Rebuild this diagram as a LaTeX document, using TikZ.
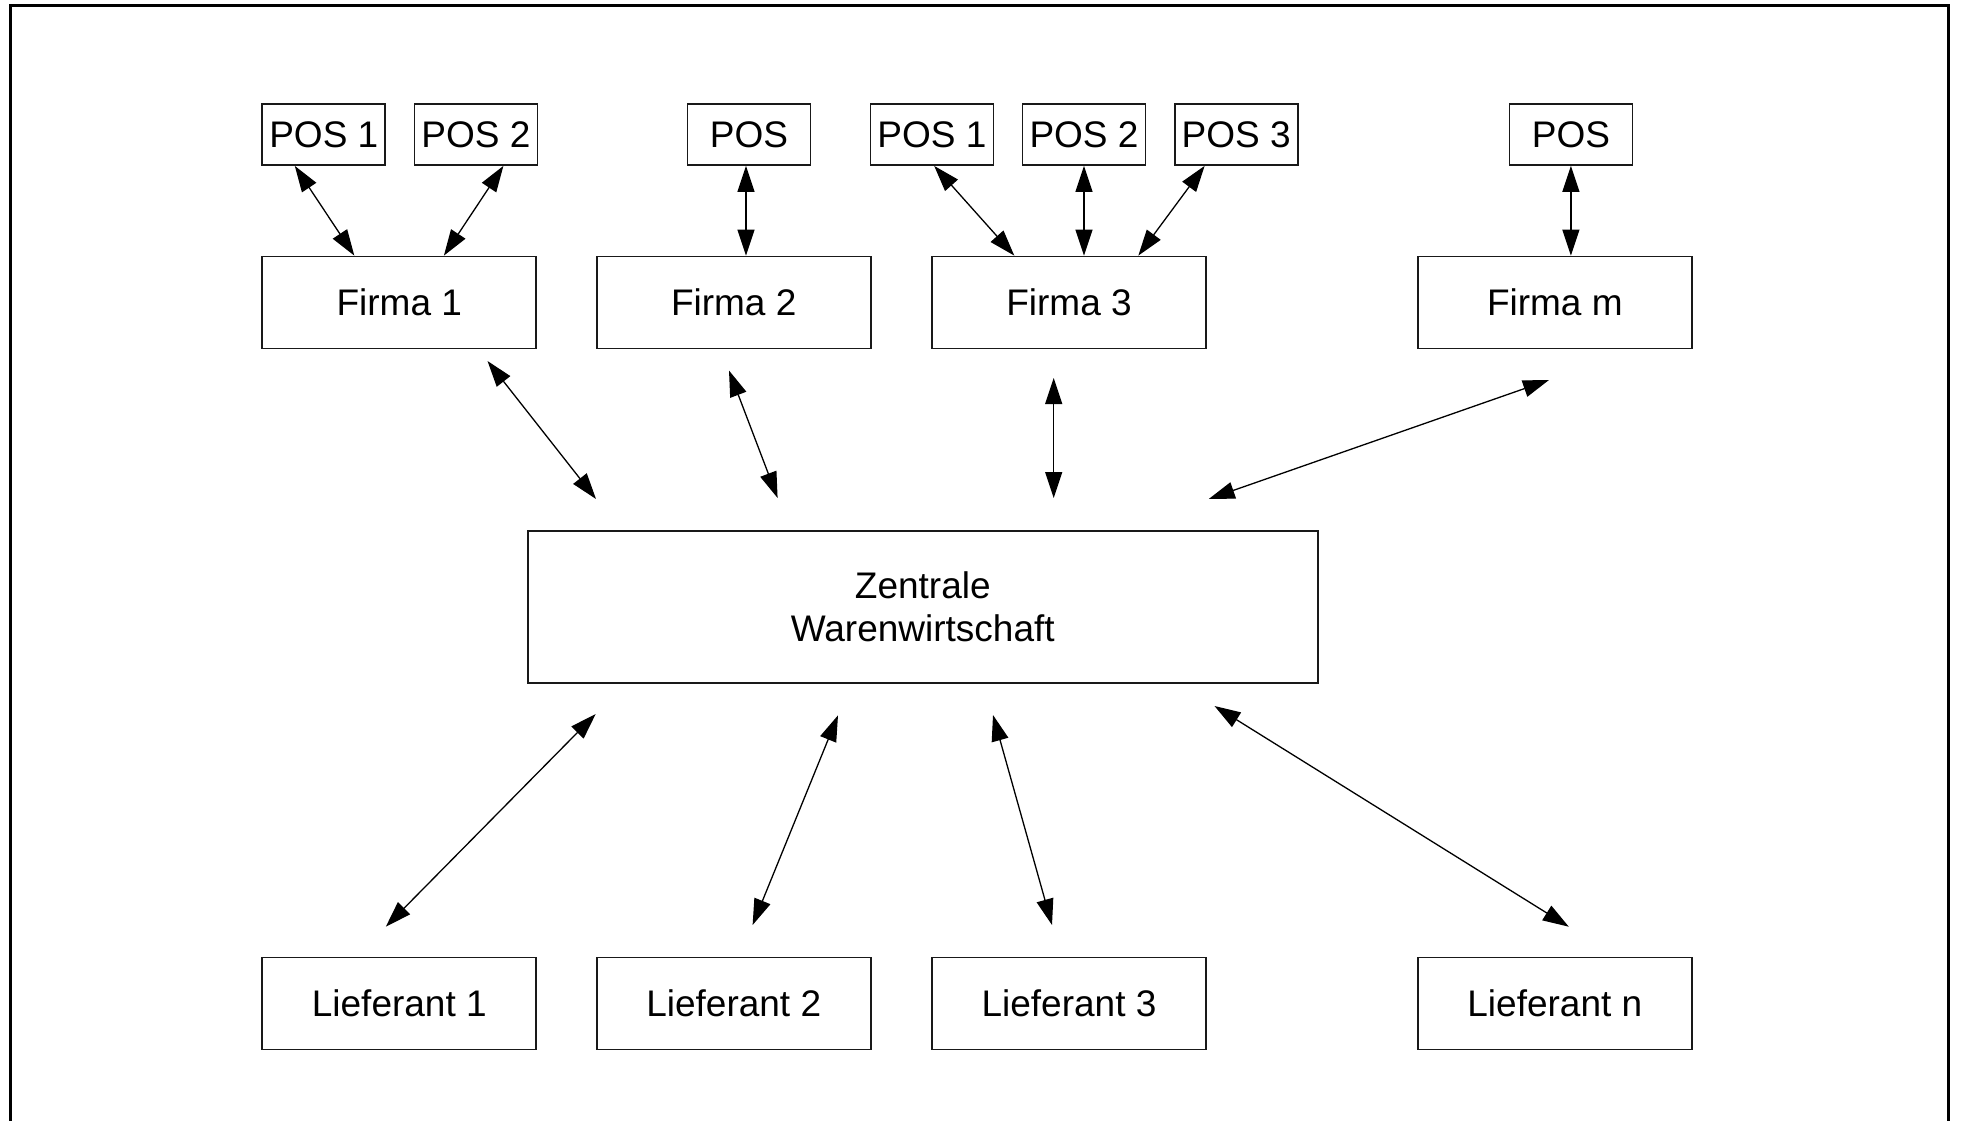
\documentclass[tikz,border=0pt]{standalone}
\usepackage{fontspec}
\setmainfont{Liberation Sans}
\usetikzlibrary{arrows.meta}
\begin{document}
\begin{tikzpicture}[x=1pt,y=-1pt,
  box/.style={draw=black!90, line width=1.8pt, inner sep=0pt,
    font=\fontsize{37}{43.5}\selectfont, align=center},
  posbox/.style={box, minimum width=123pt, minimum height=61pt},
  bigbox/.style={box, minimum width=274pt, minimum height=92pt},
  link/.style={line width=1.3pt,
    {Triangle[length=26pt,width=17pt]}-{Triangle[length=26pt,width=17pt]}}]
\useasboundingbox (0,0) rectangle (1961,1120);
\clip (0,0) rectangle (1961,1120);
% outer frame, open at the bottom
\draw[line width=3pt] (10,1130) -- (10,5) -- (1948,5) -- (1948,1130);

% points of sale
\node[posbox] (p11) at (323.8,134.5) {POS 1};
\node[posbox] (p12) at (475.9,134.5) {POS 2};
\node[posbox] (p2)  at (749,134.5)   {POS};
\node[posbox] (p31) at (931.9,134.5) {POS 1};
\node[posbox] (p32) at (1084,134.5)  {POS 2};
\node[posbox] (p33) at (1236.2,134.5){POS 3};
\node[posbox] (pm)  at (1570.9,134.5){POS};

% companies
\node[bigbox] (f1) at (399.3,302.5)  {Firma 1};
\node[bigbox] (f2) at (733.7,302.5)  {Firma 2};
\node[bigbox] (f3) at (1069,302.5)   {Firma 3};
\node[bigbox] (fm) at (1554.8,302.5) {Firma m};

% central system
\node[box, minimum width=790pt, minimum height=152pt] (zw) at (922.75,606.7)
  {Zentrale\\Warenwirtschaft};

% suppliers
\node[bigbox] (l1) at (399.3,1003.4)  {Lieferant 1};
\node[bigbox] (l2) at (733.7,1003.4)  {Lieferant 2};
\node[bigbox] (l3) at (1069,1003.4)   {Lieferant 3};
\node[bigbox] (ln) at (1554.8,1003.4) {Lieferant n};

% POS <-> company links
\draw[link] ([xshift=-29pt]p11.south) -- ([xshift=-45pt]f1.north);
\draw[link] ([xshift=27.5pt]p12.south) -- ([xshift=44.6pt]f1.north);
\draw[link] ([xshift=-3pt]p2.south) -- ([xshift=-3pt]p2.south |- f2.north);
\draw[link] ([xshift=2.3pt]p31.south) -- ([xshift=-54.7pt]f3.north);
\draw[link] (p32.south) -- (p32.south |- f3.north);
\draw[link] ([xshift=-31.6pt]p33.south) -- ([xshift=69.3pt]f3.north);
\draw[link] (pm.south) -- (pm.south |- fm.north);

% company <-> central links (free-standing arrows)
\coordinate (c1a) at (487.5,361);   \coordinate (c1b) at (596,499);
\coordinate (c2a) at (729,370.5);   \coordinate (c2b) at (777.6,498);
\coordinate (c3a) at (1053.7,378);  \coordinate (c3b) at (1053.7,498);
\coordinate (cma) at (1549,380);    \coordinate (cmb) at (1208.7,499);
\draw[link] (c1a) -- (c1b);
\draw[link] (c2a) -- (c2b);
\draw[link] (c3a) -- (c3b);
\draw[link] (cma) -- (cmb);

% central <-> supplier links
\coordinate (d1a) at (595.7,714);   \coordinate (d1b) at (385.8,926.7);
\coordinate (d2a) at (838,715.3);   \coordinate (d2b) at (752.6,925);
\coordinate (d3a) at (993,715);     \coordinate (d3b) at (1052,925);
\coordinate (dna) at (1214.5,706);  \coordinate (dnb) at (1568.8,926.7);
\draw[link] (d1a) -- (d1b);
\draw[link] (d2a) -- (d2b);
\draw[link] (d3a) -- (d3b);
\draw[link] (dna) -- (dnb);
\end{tikzpicture}
\end{document}
